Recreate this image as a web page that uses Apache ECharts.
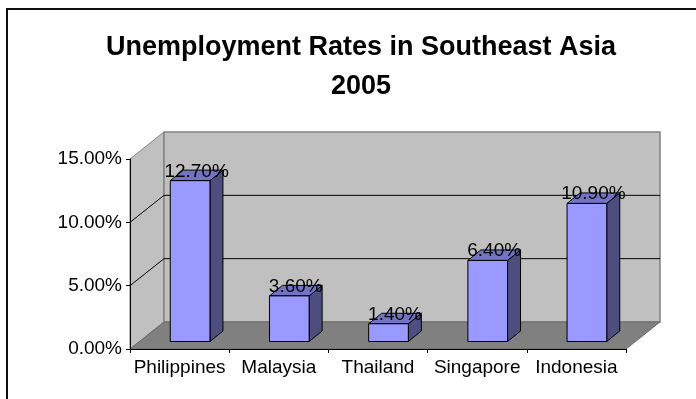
<!DOCTYPE html>
<html>
<head>
<meta charset="utf-8">
<script src="https://cdn.jsdelivr.net/npm/echarts@6/dist/echarts.min.js"></script>
<style>
  html, body { margin: 0; padding: 0; background: #fff; }
  #chart { width: 696px; height: 399px; }
</style>
</head>
<body>
<div id="chart"></div>
<script>
// Unemployment rate (%) by country, 2005
const categories = ['Philippines', 'Malaysia', 'Thailand', 'Singapore', 'Indonesia'];
const rates = [12.7, 3.6, 1.4, 6.4, 10.9];
const yTicks = [0, 5, 10, 15];
const titleLines = ['Unemployment Rates in Southeast Asia', '2005'];

const FONT = "'Liberation Sans', Arial, sans-serif";
const WALL_DEPTH = [34, -27];   // oblique offset of the back wall
const BAR_SHIFT = [10.5, -7.5]; // bars stand a little way into the floor
const BAR_DEPTH = [13, -10.5];  // thickness of each bar
const pct = v => v.toFixed(2) + '%';

const chart = echarts.init(document.getElementById('chart'), null, { renderer: 'canvas' });

// walls, floor and gridlines of the 3-D box
function renderWalls(params, api) {
  const cs = params.coordSys;
  const x0 = cs.x, x1 = cs.x + cs.width;
  const yT = cs.y, yB = cs.y + cs.height;
  const [dx, dy] = WALL_DEPTH;
  const children = [
    { type: 'polygon', shape: { points: [[x0, yT], [x0 + dx, yT + dy], [x0 + dx, yB + dy], [x0, yB]] },
      style: { fill: '#C0C0C0', stroke: '#808080', lineWidth: 1 } },
    { type: 'rect', shape: { x: x0 + dx, y: yT + dy, width: x1 - x0, height: yB - yT },
      style: { fill: '#C0C0C0', stroke: '#808080', lineWidth: 1.5 } },
    { type: 'polygon', shape: { points: [[x0, yB], [x1, yB], [x1 + dx, yB + dy], [x0 + dx, yB + dy]] },
      style: { fill: '#808080', stroke: '#6a6a6a', lineWidth: 1 } }
  ];
  yTicks.filter(t => t > yTicks[0] && t < yTicks[yTicks.length - 1]).forEach(t => {
    const y = api.coord([0, t])[1];
    children.push({ type: 'polyline',
      shape: { points: [[x0, y], [x0 + dx, y + dy], [x1 + dx, y + dy]] },
      style: { stroke: '#000', lineWidth: 1, fill: null } });
  });
  return { type: 'group', children };
}

// one 3-D column: front face, right side, top, plus value label
function renderBar(params, api) {
  const i = api.value(0), v = api.value(1);
  const base = api.coord([i, 0]);
  const top = api.coord([i, v]);
  const w = api.size([1, 0])[0] * 0.4;
  const x0 = base[0] - w / 2 + BAR_SHIFT[0];
  const x1 = x0 + w;
  const yb = base[1] + BAR_SHIFT[1];
  const yt = top[1] + BAR_SHIFT[1];
  const [dx, dy] = BAR_DEPTH;
  const edge = { stroke: '#000', lineWidth: 1 };
  return {
    type: 'group',
    children: [
      { type: 'polygon', shape: { points: [[x1, yt], [x1 + dx, yt + dy], [x1 + dx, yb + dy], [x1, yb]] },
        style: Object.assign({ fill: '#4D4D80' }, edge) },
      { type: 'polygon', shape: { points: [[x0, yt], [x0 + dx, yt + dy], [x1 + dx, yt + dy], [x1, yt]] },
        style: Object.assign({ fill: '#7373C6' }, edge) },
      { type: 'rect', shape: { x: x0, y: yt, width: w, height: yb - yt },
        style: Object.assign({ fill: '#9999FF' }, edge) },
      { type: 'text', x: x0 + w / 2 + dx / 2, y: yt + dy / 2 - 4,
        style: { text: pct(v), fill: '#000', font: '19px ' + FONT, align: 'center', verticalAlign: 'middle' } }
    ]
  };
}

chart.setOption({
  animation: false,
  title: {
    text: titleLines.join('\n'),
    left: 356, top: 23, textAlign: 'center',
    textStyle: { fontFamily: FONT, fontWeight: 'bold', fontSize: 27, color: '#000', lineHeight: 39 }
  },
  graphic: [
    { type: 'rect', shape: { x: 7, y: 9, width: 720, height: 420 },
      style: { fill: null, stroke: '#111', lineWidth: 2 }, silent: true }
  ],
  grid: { left: 130, right: 70, top: 159, bottom: 50 },
  xAxis: {
    type: 'category', data: categories, z: 10,
    axisLine: { show: true, lineStyle: { color: '#000', width: 1 } },
    axisTick: { show: true, length: 4, lineStyle: { color: '#000' } },
    axisLabel: { color: '#000', fontFamily: FONT, fontSize: 19, margin: 9, interval: 0, hideOverlap: false },
    splitLine: { show: false }
  },
  yAxis: {
    type: 'value', min: yTicks[0], max: yTicks[yTicks.length - 1], interval: 5, z: 10,
    axisLine: { show: true, lineStyle: { color: '#000', width: 1 } },
    axisTick: { show: true, length: 4, lineStyle: { color: '#000' } },
    axisLabel: { color: '#000', fontFamily: FONT, fontSize: 19, margin: 8, formatter: pct },
    splitLine: { show: false }
  },
  series: [
    { type: 'custom', z: 1, silent: true, renderItem: renderWalls, data: [[0, 0]] },
    { type: 'custom', z: 3, silent: true, renderItem: renderBar,
      encode: { x: 0, y: 1 },
      data: rates.map((v, i) => [i, v]) }
  ]
});
</script>
</body>
</html>
